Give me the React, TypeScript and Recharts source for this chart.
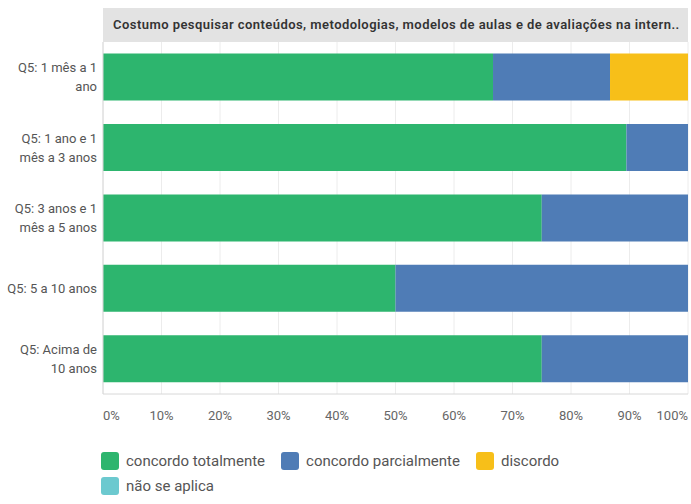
import React from 'react';
import { BarChart, Bar, XAxis, YAxis, CartesianGrid } from 'recharts';

// Categories (line breaks where the reference wraps its labels)
const categories = [
  'Q5: 1 mês a 1\nano',
  'Q5: 1 ano e 1\nmês a 3 anos',
  'Q5: 3 anos e 1\nmês a 5 anos',
  'Q5: 5 a 10 anos',
  'Q5: Acima de\n10 anos',
];

// Percentages per answer
const concordoTotalmente = [66.67, 89.47, 75, 50, 75];
const concordoParcialmente = [20, 10.53, 25, 50, 25];
const discordo = [13.33, 0, 0, 0, 0];
const naoSeAplica = [0, 0, 0, 0, 0];

const xTicks = [0, 10, 20, 30, 40, 50, 60, 70, 80, 90, 100];

const title =
  'Costumo pesquisar conteúdos, metodologias, modelos de aulas e de avaliações na intern..';

const SERIES = [
  { key: 'concordoTotalmente', label: 'concordo totalmente', color: '#2db56e' },
  { key: 'concordoParcialmente', label: 'concordo parcialmente', color: '#4f7cb6' },
  { key: 'discordo', label: 'discordo', color: '#f7bf19' },
  { key: 'naoSeAplica', label: 'não se aplica', color: '#6cc9cf' },
];

const data = categories.map((name, i) => ({
  name,
  concordoTotalmente: concordoTotalmente[i],
  concordoParcialmente: concordoParcialmente[i],
  discordo: discordo[i],
  naoSeAplica: naoSeAplica[i],
}));

const FONT = 'Roboto, "Noto Sans", sans-serif';

const XTick = (props: any) => {
  const { x, y, payload } = props;
  const v = payload.value;
  const anchor = v === 0 ? 'start' : v === 100 ? 'end' : 'middle';
  return (
    <text x={x} y={y + 26} textAnchor={anchor} fill="#666" fontSize={13} fontFamily={FONT}>
      {`${v}%`}
    </text>
  );
};

const YTick = (props: any) => {
  const { x, y, payload } = props;
  const lines = String(payload.value).split('\n');
  const lh = 19;
  const start = y + 4.5 - ((lines.length - 1) * lh) / 2;
  return (
    <text textAnchor="end" fill="#555" fontSize={13} fontFamily={FONT}>
      {lines.map((l, i) => (
        <tspan key={i} x={x} y={start + i * lh}>
          {l}
        </tspan>
      ))}
    </text>
  );
};

export default function App() {
  return (
    <div
      style={{
        position: 'absolute',
        left: 0,
        top: 0,
        width: 691,
        height: 504,
        background: '#fff',
        fontFamily: FONT,
      }}
    >
      {/* question header */}
      <div
        style={{
          position: 'absolute',
          left: 103,
          top: 8,
          width: 585,
          height: 34,
          background: '#e3e3e3',
          boxSizing: 'border-box',
          padding: '0 0 0 10px',
          lineHeight: '34px',
          fontSize: 13,
          letterSpacing: 0.45,
          fontWeight: 600,
          color: '#333',
          whiteSpace: 'nowrap',
          overflow: 'hidden',
        }}
      >
        {title}
      </div>

      <BarChart
        width={691}
        height={431}
        data={data}
        layout="vertical"
        margin={{ top: 42, right: 3, left: 0, bottom: 0 }}
        barCategoryGap="16.5%"
      >
        <CartesianGrid vertical horizontal={false} stroke="#ececec" />
        <XAxis
          type="number"
          domain={[0, 100]}
          ticks={xTicks}
          height={37}
          tickSize={0}
          tickMargin={0}
          axisLine={{ stroke: '#d8d8d8' }}
          tickLine={false}
          tick={<XTick />}
          interval={0}
        />
        <YAxis
          type="category"
          dataKey="name"
          width={103}
          tickSize={0}
          tickMargin={6}
          tickLine={false}
          axisLine={{ stroke: '#d8d8d8' }}
          tick={<YTick />}
          interval={0}
        />
        {SERIES.map((s) => (
          <Bar
            key={s.key}
            dataKey={s.key}
            stackId="a"
            fill={s.color}
            isAnimationActive={false}
          />
        ))}
      </BarChart>

      {/* legend */}
      <div
        style={{
          position: 'absolute',
          left: 101,
          top: 450,
          width: 540,
          display: 'flex',
          flexWrap: 'wrap',
          rowGap: 4,
          fontSize: 15,
          color: '#555',
        }}
      >
        {SERIES.map((s, i) => (
          <div
            key={s.key}
            style={{
              display: 'flex',
              alignItems: 'center',
              marginRight: 16,
              width: i === 3 ? '100%' : undefined,
              height: 21,
            }}
          >
            <span
              style={{
                width: 18,
                height: 18,
                borderRadius: 3,
                background: s.color,
                display: 'inline-block',
                marginRight: 7,
              }}
            />
            <span>{s.label}</span>
          </div>
        ))}
      </div>
    </div>
  );
}
